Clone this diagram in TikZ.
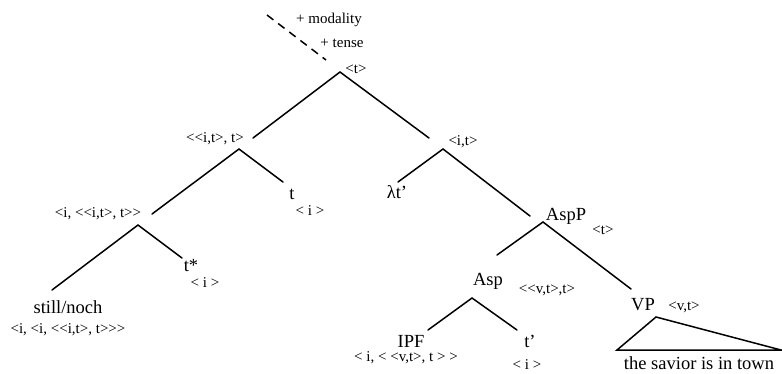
\documentclass[tikz,border=0pt]{standalone}
\usepackage{fontspec}
\setmainfont{Liberation Serif}[Ligatures=TeXOff]
\begin{document}
\begin{tikzpicture}[x=1pt,y=-1pt,
  big/.style={inner sep=0pt,font=\fontsize{18.5}{20}\selectfont},
  small/.style={inner sep=0pt,font=\fontsize{15}{17}\selectfont},
  br/.style={line width=1.5pt,line cap=round}]
\useasboundingbox (0,0) rectangle (782,373);
% top annotations
\node[small] (mod) at (329,20) {+ modality};
\node[small] (tense) at (342,43) {+ tense};
\coordinate (d0) at (267,15);
\coordinate (d1) at (326,60);
\draw[br,line cap=butt,dash pattern=on 8pt off 6pt] (d0) -- (d1);
% root
\node[small] (tT) at (356,69) {<t>};
\coordinate (r) at (340,72);
\coordinate (rl) at (253,138);
\coordinate (rr) at (429,138);
\draw[br] (rl) -- (r) -- (rr);
% <<i,t>,t>
\node[small] (n1) at (215,139) {<<i,t>, t>};
\coordinate (n1a) at (239,149);
\coordinate (n1l) at (152,214);
\coordinate (n1r) at (283,182);
\draw[br] (n1l) -- (n1a) -- (n1r);
\node[big] (t) at (292,194) {t};
\node[small] (ti) at (310,211) {< i >};
% <i,<<i,t>,t>>
\node[small] (n2) at (98,214) {<i, <<i,t>, t>>};
\coordinate (n2a) at (138,225);
\coordinate (n2l) at (52,290);
\coordinate (n2r) at (182,258);
\draw[br] (n2l) -- (n2a) -- (n2r);
\node[big] (ts) at (191,266) {t*};
\node[small] (tsi) at (205,283) {< i >};
\node[big] (still) at (68,307) {still/noch};
\node[small] (stillt) at (68,330) {<i, <i, <<i,t>, t>>>};
% <i,t>
\node[small] (n3) at (463,142) {<i,t>};
\coordinate (n3a) at (443,149);
\coordinate (n3l) at (398,182);
\coordinate (n3r) at (530,216);
\draw[br] (n3l) -- (n3a) -- (n3r);
\node[big] (lam) at (397,192) {λt’};
% AspP
\node[big] (aspp) at (566,216) {AspP};
\node[small] (asppt) at (603,230) {<t>};
\coordinate (aa) at (543,222);
\coordinate (al) at (497,255);
\coordinate (ar) at (631,289);
\draw[br] (al) -- (aa) -- (ar);
% Asp
\node[big] (asp) at (488,281) {Asp};
\node[small] (aspt) at (547,290) {<<v,t>,t>};
\coordinate (sa) at (472,298);
\coordinate (sl) at (428,330);
\coordinate (sr) at (517,330);
\draw[br] (sl) -- (sa) -- (sr);
\node[big] (ipf) at (411,341) {IPF};
\node[small] (ipft) at (406,358) {< i, < <v,t>, t > >};
\node[big] (tp) at (530,341) {t’};
\node[small] (tpi) at (527,365) {< i >};
% VP
\node[big] (vp) at (643,305) {VP};
\node[small] (vpt) at (684,307) {<v,t>};
\coordinate (va) at (656,317);
\coordinate (vl) at (617,350);
\coordinate (vr) at (781,350);
\draw[br,line join=miter,line cap=butt] (vl) -- (va) -- (vr) -- cycle;
\node[big] (sav) at (699,363) {the savior is in town};
\end{tikzpicture}
\end{document}
